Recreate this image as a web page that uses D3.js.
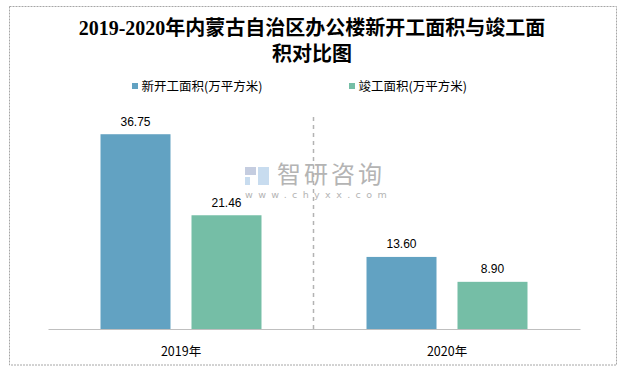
<!DOCTYPE html>
<html>
<head>
<meta charset="utf-8">
<script src="https://cdn.jsdelivr.net/npm/d3@7/dist/d3.min.js"></script>
<style>
  html, body { margin: 0; padding: 0; background: #fff; }
  svg { display: block; }
</style>
</head>
<body>
<svg id="chart" width="631" height="368"></svg>
<script>
const titleLines = ["2019-2020年内蒙古自治区办公楼新开工面积与竣工面", "积对比图"];
const categories = ["2019年", "2020年"];
const seriesNames = ["新开工面积(万平方米)", "竣工面积(万平方米)"];
const newStarts = [36.75, 13.60];
const completed = [21.46, 8.90];
const seriesColors = ["#62A2C2", "#75BEA6"];
const yDomain = [0, 40];

const svg = d3.select("#chart");
const cjk = "'Noto Sans CJK SC', 'Microsoft YaHei', sans-serif";

// outer frame
svg.append("rect")
  .attr("x", 9.5).attr("y", 6.5).attr("width", 607).attr("height", 358.5)
  .attr("fill", "#fff").attr("stroke", "#a6a6a6").attr("stroke-width", 1)
  .attr("stroke-dasharray", "2,1");

// title
svg.append("text")
  .attr("x", 312).attr("y", 35)
  .attr("text-anchor", "middle")
  .attr("font-family", "'Liberation Serif', 'Noto Sans CJK SC', serif")
  .attr("font-weight", "bold").attr("font-size", 20).attr("fill", "#000")
  .selectAll("tspan").data(titleLines).join("tspan")
  .attr("x", 312).attr("dy", (d, i) => i === 0 ? 0 : 26)
  .text(d => d);

// legend
const legendX = [132, 349];
const lg = svg.append("g");
seriesNames.forEach((name, i) => {
  lg.append("rect").attr("x", legendX[i]).attr("y", 83).attr("width", 6).attr("height", 6)
    .attr("fill", seriesColors[i]);
  lg.append("text").attr("x", legendX[i] + 9.5).attr("y", 90.5)
    .attr("font-family", cjk).attr("font-size", 12.5).attr("fill", "#000")
    .text(name);
});

// scales
const x0 = d3.scaleBand().domain(categories).range([48, 580]).paddingInner(0).paddingOuter(0);
const x1 = d3.scaleBand().domain(seriesNames).range([0, x0.bandwidth()])
  .paddingInner(0.2308).paddingOuter(0.577);
const y = d3.scaleLinear().domain(yDomain).range([329, 117]);

// watermark
const wm = svg.append("g");
wm.append("rect").attr("x", 245).attr("y", 167).attr("width", 11).attr("height", 8).attr("fill", "#c5cde0");
wm.append("rect").attr("x", 245).attr("y", 177).attr("width", 5).attr("height", 8).attr("fill", "#c8dcef");
wm.append("rect").attr("x", 258).attr("y", 167).attr("width", 11).attr("height", 18).attr("fill", "#c8dcef");
wm.append("text").attr("x", 277).attr("y", 183)
  .attr("font-family", cjk).attr("font-size", 24).attr("fill", "#b4b4b4")
  .attr("letter-spacing", 3).text("智研咨询");
wm.append("text").attr("x", 245).attr("y", 198)
  .attr("font-family", "'DejaVu Sans', sans-serif").attr("font-size", 9.5).attr("fill", "#b4b4b4")
  .attr("letter-spacing", 5.4).text("www.chyxx.com");

// divider
svg.append("line")
  .attr("x1", x0("2020年") - 0.5).attr("x2", x0("2020年") - 0.5)
  .attr("y1", y(yDomain[1])).attr("y2", y(0))
  .attr("stroke", "#b3b3b3").attr("stroke-width", 1.5).attr("stroke-dasharray", "4,4");

// bars
const rows = categories.map((c, i) => ({ cat: c, vals: [newStarts[i], completed[i]] }));
const groups = svg.append("g").selectAll("g").data(rows).join("g")
  .attr("transform", d => `translate(${x0(d.cat)},0)`);
groups.selectAll("rect").data(d => d.vals.map((v, j) => ({ v, s: seriesNames[j], j })))
  .join("rect")
  .attr("x", d => x1(d.s)).attr("width", x1.bandwidth())
  .attr("y", d => y(d.v)).attr("height", d => y(0) - y(d.v))
  .attr("fill", d => seriesColors[d.j]);
groups.selectAll("text").data(d => d.vals.map((v, j) => ({ v, s: seriesNames[j] })))
  .join("text")
  .attr("x", d => x1(d.s) + x1.bandwidth() / 2)
  .attr("y", d => y(d.v) - 8.5)
  .attr("text-anchor", "middle")
  .attr("font-family", "'Liberation Sans', Arial, sans-serif").attr("font-size", 12).attr("fill", "#000")
  .text(d => d.v.toFixed(2));

// x axis
const xAxis = svg.append("g").attr("transform", `translate(0,${y(0)})`)
  .call(d3.axisBottom(x0).tickSize(0).tickPadding(18));
xAxis.select(".domain").attr("stroke", "#bfbfbf").attr("stroke-width", 1.2);
xAxis.selectAll("text").attr("font-family", cjk).attr("font-size", 12.5).attr("fill", "#000");
</script>
</body>
</html>
